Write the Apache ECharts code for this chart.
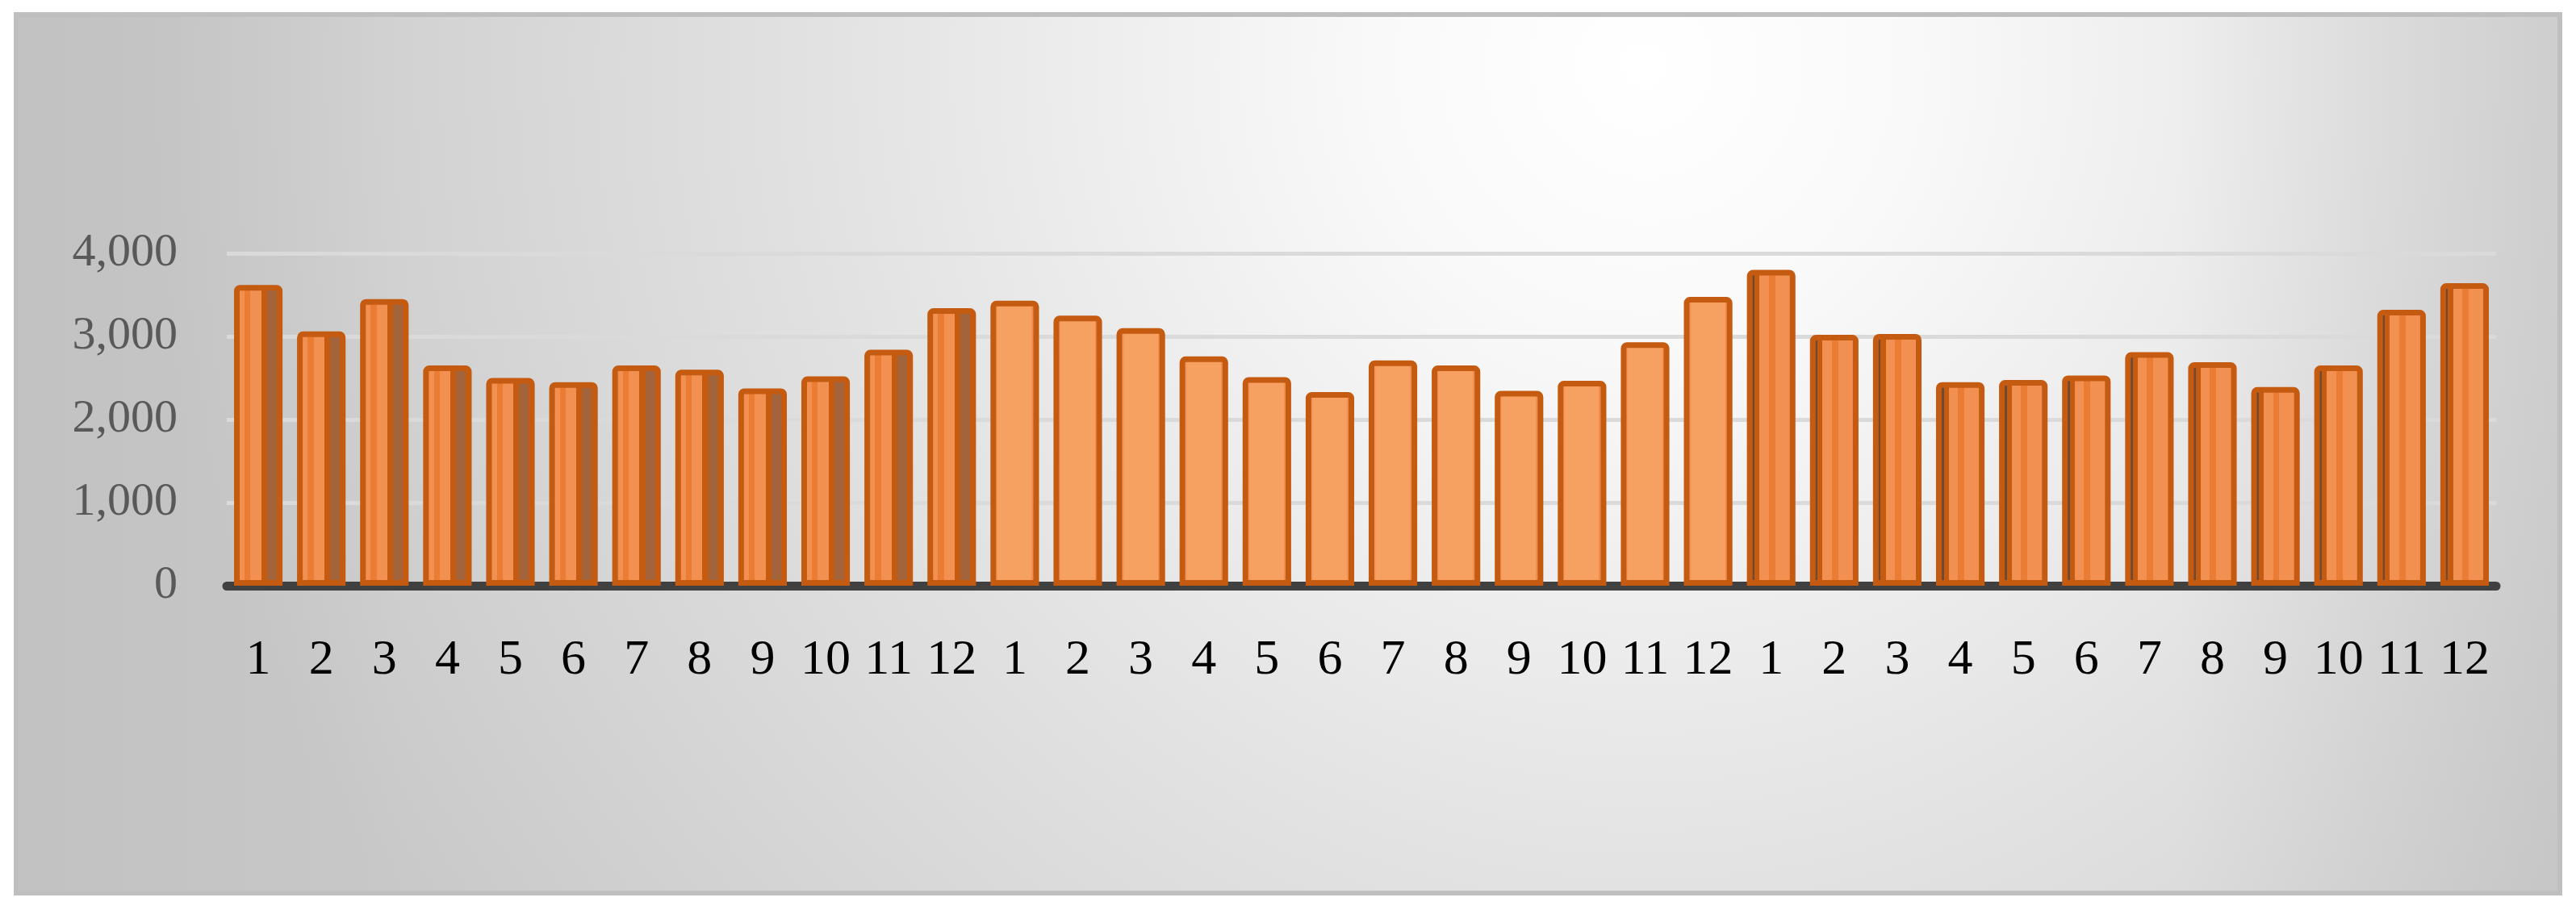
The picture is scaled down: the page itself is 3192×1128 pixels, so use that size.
<!DOCTYPE html>
<html>
<head>
<meta charset="utf-8">
<script src="https://cdn.jsdelivr.net/npm/echarts@6/dist/echarts.min.js"></script>
<style>
html,body{margin:0;padding:0;background:#ffffff;}
#chart{width:3192px;height:1128px;}
</style>
</head>
<body>
<div id="chart"></div>
<script>
// ---- data ----
const monthLabels = ['1','2','3','4','5','6','7','8','9','10','11','12'];
const year1 = [3620, 3060, 3450, 2650, 2500, 2450, 2650, 2600, 2375, 2520, 2840, 3340];
const year2 = [3430, 3250, 3100, 2760, 2510, 2330, 2710, 2650, 2345, 2465, 2930, 3475];
const year3 = [3800, 3020, 3030, 2450, 2475, 2530, 2810, 2690, 2390, 2650, 3320, 3640];
const yTicks = [0, 1000, 2000, 3000, 4000];

const categories = [].concat(monthLabels, monthLabels, monthLabels);

function grad(stops) {
  return { type: 'linear', x: 0, y: 0, x2: 1, y2: 0, colorStops: stops };
}
const LIGHT = '#f19050', MID = '#ea7c34', EDGE = '#c55a11', SIDE = '#a3633b';
const styleLeftYear = grad([
  {offset: 0, color: LIGHT}, {offset: 0.22, color: LIGHT},
  {offset: 0.22, color: MID}, {offset: 0.34, color: MID},
  {offset: 0.34, color: LIGHT}, {offset: 0.56, color: LIGHT},
  {offset: 0.56, color: EDGE}, {offset: 0.68, color: EDGE},
  {offset: 0.68, color: SIDE}, {offset: 0.88, color: SIDE},
  {offset: 0.88, color: EDGE}, {offset: 1, color: EDGE}
]);
const styleMidYear = grad([
  {offset: 0, color: '#f4975a'}, {offset: 0.15, color: '#f4975a'},
  {offset: 0.15, color: '#f6a061'}, {offset: 0.85, color: '#f6a061'},
  {offset: 0.85, color: '#f08f4f'}, {offset: 1, color: '#f08f4f'}
]);
const styleRightYear = grad([
  {offset: 0, color: EDGE}, {offset: 0.06, color: EDGE},
  {offset: 0.06, color: '#6e4a35'}, {offset: 0.16, color: '#6e4a35'},
  {offset: 0.16, color: EDGE}, {offset: 0.26, color: EDGE},
  {offset: 0.26, color: LIGHT}, {offset: 0.45, color: LIGHT},
  {offset: 0.45, color: MID}, {offset: 0.58, color: MID},
  {offset: 0.58, color: LIGHT}, {offset: 1, color: LIGHT}
]);

const barData = [];
year1.forEach(v => barData.push({value: v, itemStyle: {color: styleLeftYear}}));
year2.forEach(v => barData.push({value: v, itemStyle: {color: styleMidYear}}));
year3.forEach(v => barData.push({value: v, itemStyle: {color: styleRightYear}}));

const chart = echarts.init(document.getElementById('chart'), null, {renderer: 'canvas'});
chart.setOption({
  animation: false,
  backgroundColor: '#ffffff',
  graphic: [
    {
      type: 'rect', z: -10, silent: true,
      shape: {x: 20, y: 18, width: 3152, height: 1089},
      style: {
        fill: {type: 'radial', x: 0.64, y: 0.06, r: 1.7, colorStops: [
          {offset: 0, color: '#ffffff'},
          {offset: 0.18, color: '#f9f9f9'},
          {offset: 0.55, color: '#e2e2e2'},
          {offset: 1, color: '#c8c8c8'}
        ]},
        stroke: '#bfbfbf', lineWidth: 6
      }
    },
    {
      type: 'rect', z: -9, silent: true,
      shape: {x: 23, y: 21, width: 3146, height: 1083},
      style: {
        fill: {type: 'linear', x: 0, y: 0, x2: 1, y2: 0, colorStops: [
          {offset: 0, color: 'rgba(175,175,175,0.25)'},
          {offset: 0.15, color: 'rgba(175,175,175,0)'},
          {offset: 0.85, color: 'rgba(175,175,175,0)'},
          {offset: 1, color: 'rgba(175,175,175,0.35)'}
        ]}
      }
    }
  ],
  grid: {left: 281, right: 99, top: 314, bottom: 402, containLabel: false},
  xAxis: {
    type: 'category',
    data: categories,
    axisLine: {show: true, lineStyle: {color: '#404040', width: 11, cap: 'round'}},
    axisTick: {show: false},
    axisLabel: {
      interval: 0, margin: 62,
      fontFamily: 'Liberation Serif', fontSize: 62, color: '#000000'
    },
    splitLine: {show: false}
  },
  yAxis: {
    type: 'value',
    min: yTicks[0], max: yTicks[yTicks.length - 1], interval: 1000,
    axisLine: {show: false},
    axisTick: {show: false},
    axisLabel: {
      margin: 61,
      fontFamily: 'Liberation Serif', fontSize: 58, color: '#595959',
      formatter: v => v.toLocaleString('en-US')
    },
    splitLine: {lineStyle: {color: '#dadada', width: 5}}
  },
  series: [{
    type: 'bar',
    data: barData,
    barCategoryGap: '23%',
    itemStyle: {borderColor: '#c55a11', borderWidth: 7, borderRadius: [4, 4, 0, 0]}
  }]
});
</script>
</body>
</html>
